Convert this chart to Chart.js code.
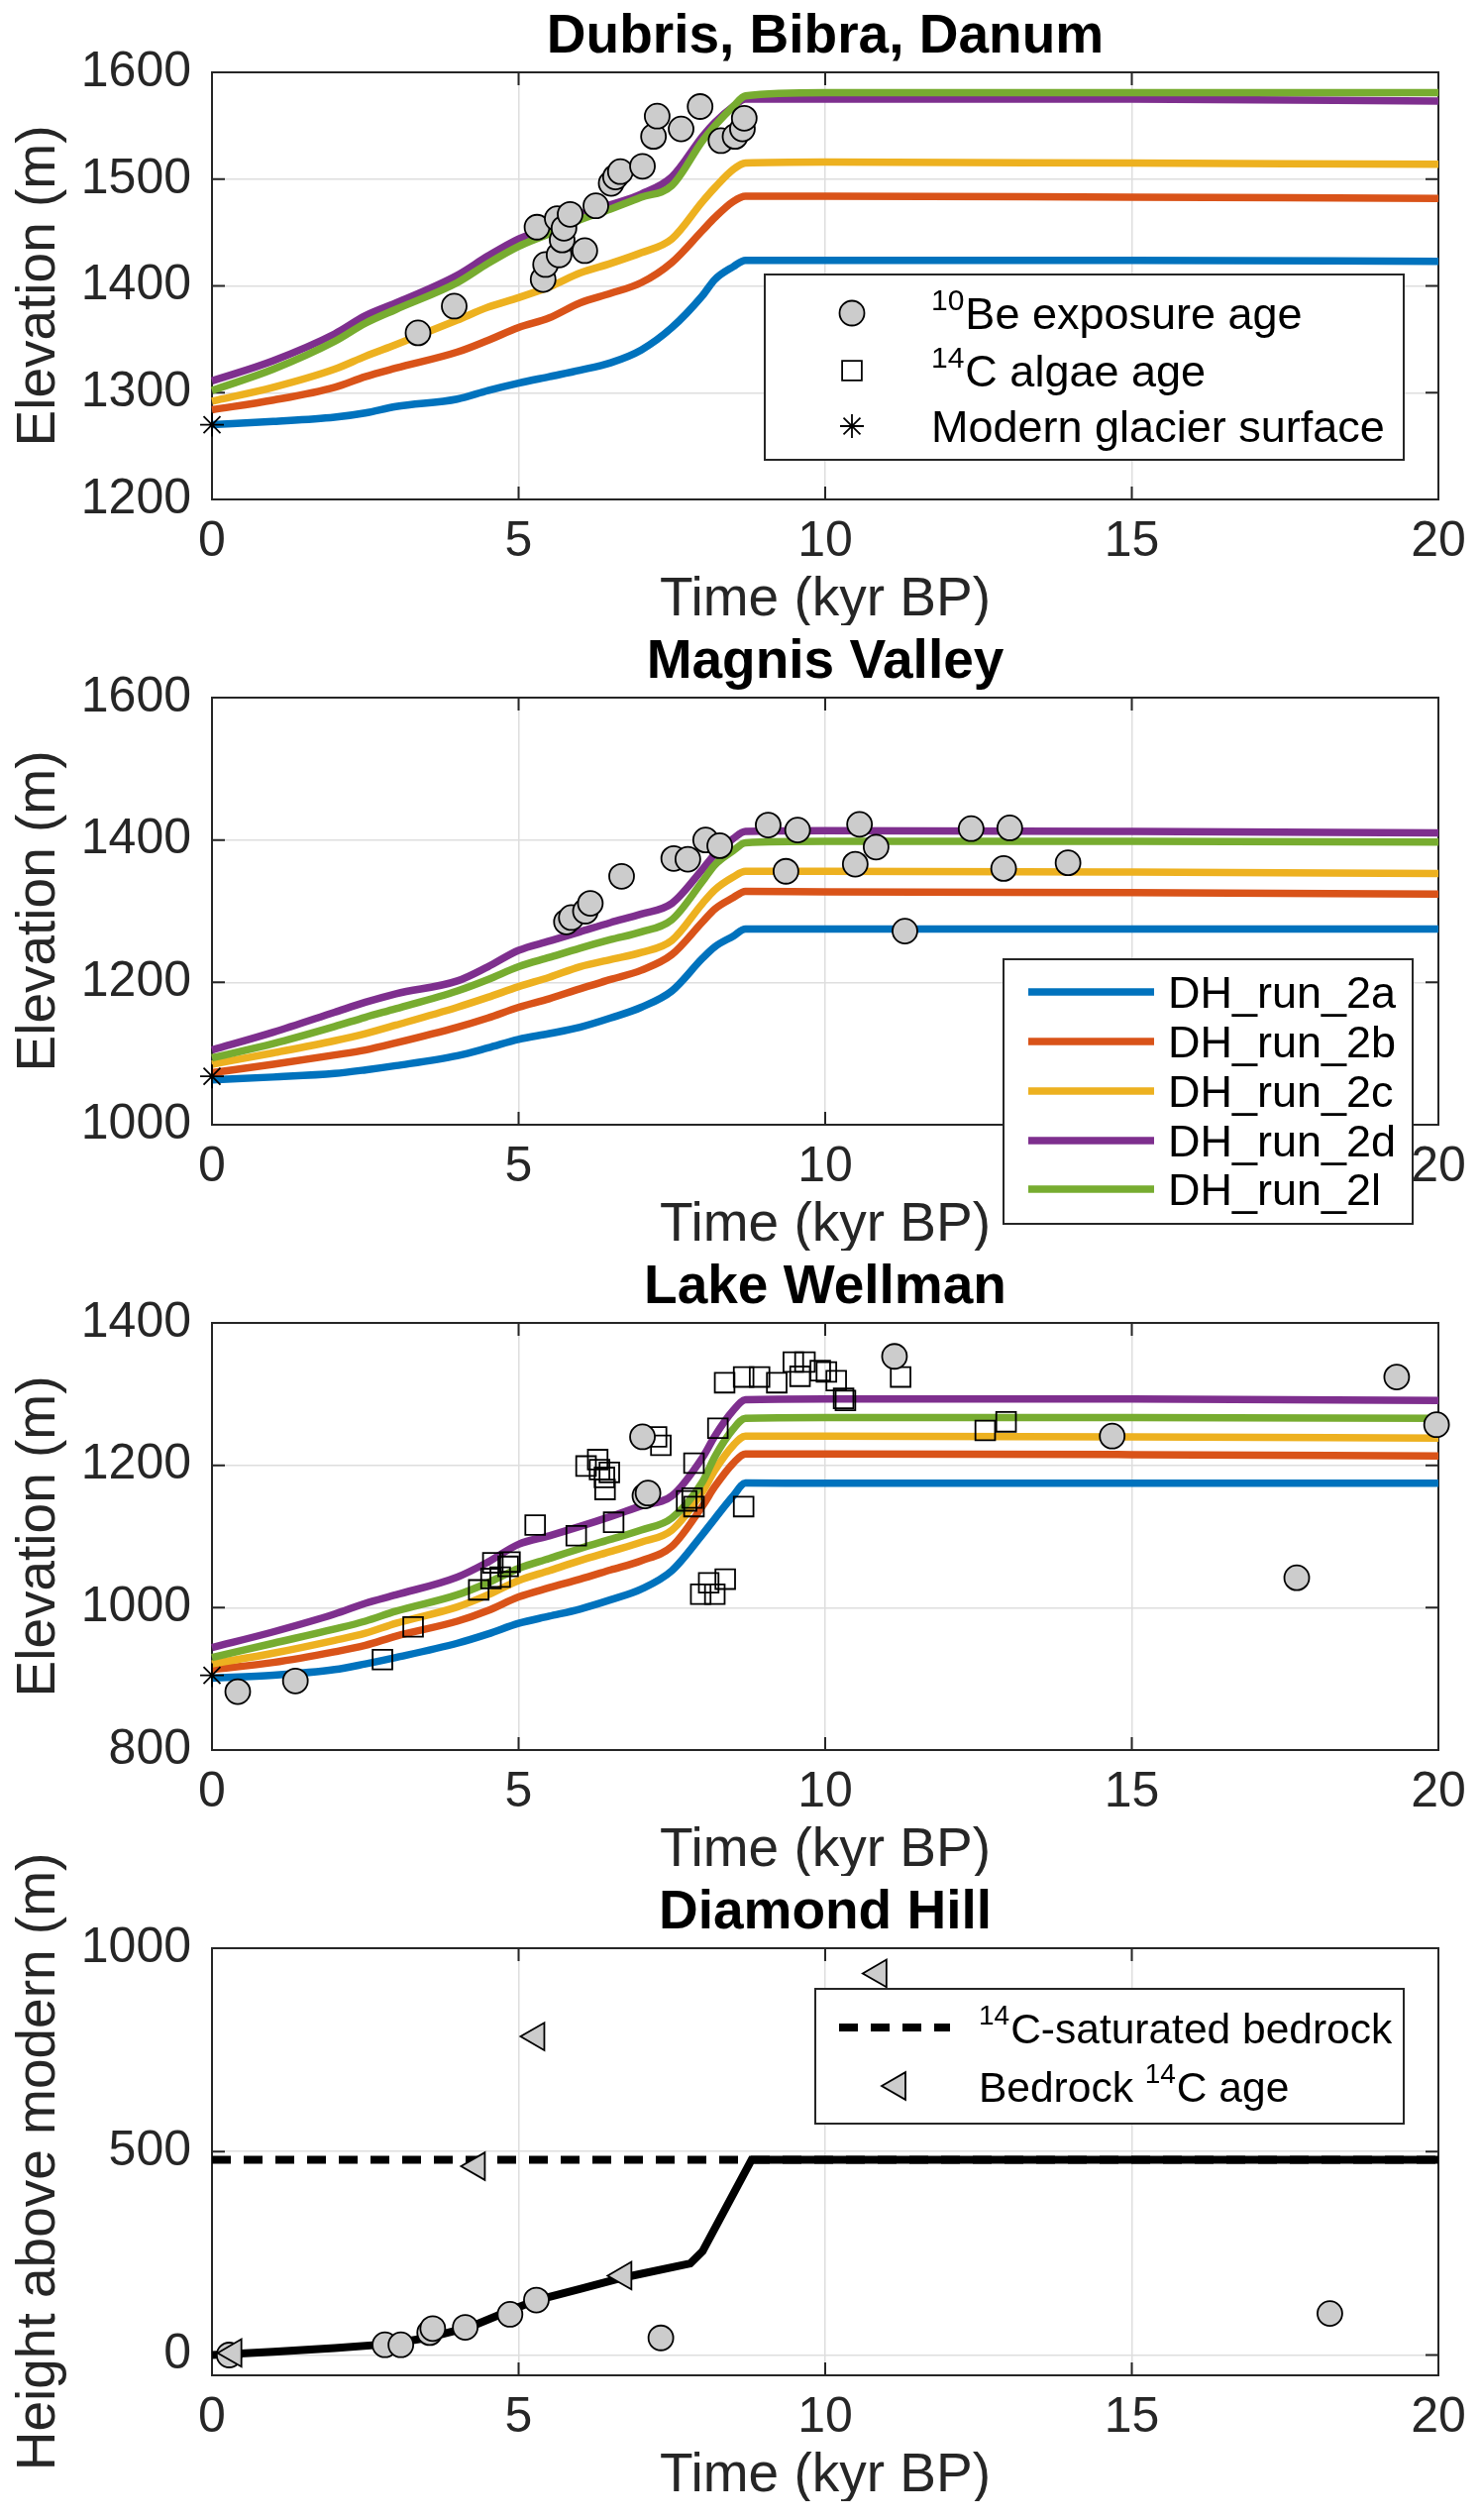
<!DOCTYPE html>
<html><head><meta charset="utf-8">
<script src="https://cdn.jsdelivr.net/npm/chart.js@4.4.1/dist/chart.umd.min.js"></script>
<style>
html,body{margin:0;padding:0;background:#fff;}
#wrap{position:relative;width:1495px;height:2543px;background:#fff;}
.panel{position:absolute;left:0;width:1495px;height:631px;}
</style></head><body><div id="wrap">
<div class="panel" style="top:0px"><canvas id="c1"></canvas></div>
<div class="panel" style="top:631px"><canvas id="c2"></canvas></div>
<div class="panel" style="top:1262px"><canvas id="c3"></canvas></div>
<div class="panel" style="top:1843px;height:681px"><canvas id="c4"></canvas></div>
</div>
<script>
// ---------- DATA ----------
const xTickValues = [0, 5, 10, 15, 20];
const dbdYTicks = [1200, 1300, 1400, 1500, 1600];
const mvYTicks = [1000, 1200, 1400, 1600];
const lwYTicks = [800, 1000, 1200, 1400];
const dhYTicks = [0, 500, 1000];

const runNames = ['DH_run_2a', 'DH_run_2b', 'DH_run_2c', 'DH_run_2d', 'DH_run_2l'];
const timeKyr = [0, 1, 2, 2.5, 3, 4, 4.5, 5, 5.5, 6, 6.5, 7, 7.5, 8, 8.2, 8.5, 8.7, 10, 15, 20];

// Dubris, Bibra, Danum
const dbd2a = [1270,1273,1277,1281,1287,1294,1302,1309,1315,1321,1328,1340,1361,1391,1406,1418,1424,1424,1424,1423];
const dbd2b = [1284,1293,1305,1315,1323,1338,1349,1361,1370,1384,1393,1403,1422,1452,1464,1479,1484,1484,1483,1482];
const dbd2c = [1292,1305,1322,1334,1345,1368,1380,1389,1399,1412,1421,1431,1444,1479,1492,1509,1515,1516,1515,1514];
const dbd2d = [1311,1330,1355,1372,1384,1410,1428,1444,1455,1467,1476,1486,1502,1540,1553,1568,1575,1575,1575,1573];
const dbd2l = [1302,1322,1348,1365,1378,1403,1421,1437,1449,1462,1472,1483,1494,1536,1550,1568,1578,1581,1581,1581];
const dbdBeAge  = [3.36,3.95,5.30,5.40,5.44,5.63,5.66,5.71,5.74,5.84,6.08,6.26,6.51,6.58,6.66,7.02,7.20,7.26,7.65,7.96,8.30,8.53,8.65,8.68];
const dbdBeElev = [1356,1381,1455,1406,1420,1463,1429,1443,1454,1467,1433,1475,1496,1502,1507,1512,1540,1559,1547,1568,1536,1540,1547,1557];
const dbdModern = [1270];

// Magnis Valley
const mv2a = [1063,1067,1072,1077,1083,1097,1108,1120,1128,1137,1150,1165,1188,1234,1250,1265,1275,1275,1275,1275];
const mv2b = [1073,1085,1098,1105,1115,1137,1150,1165,1177,1191,1204,1217,1239,1285,1303,1319,1328,1327,1326,1324];
const mv2c = [1085,1101,1118,1128,1140,1165,1179,1194,1207,1222,1232,1242,1259,1311,1330,1348,1356,1356,1355,1353];
const mv2d = [1105,1130,1158,1172,1184,1202,1222,1245,1258,1271,1284,1296,1311,1359,1380,1402,1412,1413,1412,1410];
const mv2l = [1094,1114,1138,1151,1163,1188,1204,1222,1235,1248,1260,1271,1288,1342,1365,1385,1396,1398,1398,1397];
const mvBeAge  = [5.78,5.86,6.09,6.17,6.68,7.53,7.76,8.05,8.28,9.07,9.36,9.55,10.49,10.56,10.83,11.30,12.38,12.91,13.01,13.96];
const mvBeElev = [1285,1291,1300,1311,1349,1374,1373,1400,1392,1421,1356,1414,1366,1422,1390,1272,1416,1360,1417,1368];
const mvModern = [1068];

// Lake Wellman
const lw2a = [901,905,913,921,930,950,963,978,988,998,1011,1026,1052,1103,1125,1157,1175,1175,1175,1175];
const lw2b = [913,923,938,947,960,981,996,1015,1028,1040,1053,1066,1086,1143,1170,1203,1216,1216,1215,1213];
const lw2c = [921,936,954,964,978,1001,1018,1038,1052,1066,1079,1092,1109,1163,1193,1228,1241,1241,1240,1238];
const lw2d = [944,966,991,1006,1018,1043,1064,1089,1101,1114,1128,1143,1157,1211,1241,1277,1292,1293,1293,1291];
const lw2l = [930,950,970,981,995,1018,1035,1055,1069,1083,1096,1109,1126,1177,1212,1251,1266,1267,1267,1266];
const lwBeAge  = [0.42,1.36,7.02,7.06,7.11,11.13,14.68,17.69,19.32,19.97];
const lwBeElev = [882,897,1240,1157,1161,1353,1241,1042,1324,1257];
const lwC14Age  = [2.78,3.28,4.35,4.58,4.70,4.83,4.86,4.55,5.27,5.94,6.55,6.10,6.29,6.32,6.40,6.48,6.41,7.25,7.32,7.74,7.86,7.83,7.86,8.25,8.67,7.97,8.20,8.10,8.37,8.36,8.67,8.93,9.21,9.48,9.67,9.59,9.92,10.02,10.18,10.33,10.30,11.23,12.61,12.95];
const lwC14Elev = [927,973,1025,1063,1043,1058,1064,1041,1116,1101,1120,1199,1208,1194,1183,1190,1166,1240,1228,1150,1142,1154,1203,1252,1142,1019,1019,1035,1040,1316,1324,1324,1316,1345,1345,1325,1333,1331,1319,1291,1294,1324,1249,1261];
const lwModern = [905];

// Diamond Hill
const dhModelAge    = [0, 1, 2, 2.9, 3.5, 4.2, 4.9, 5.3, 6, 6.7, 7.8, 8.0, 8.8, 20];
const dhModelHeight = [0, 8, 17, 27, 42, 68, 112, 135, 162, 190, 225, 255, 480, 480];
const dhSatAge      = [0, 20];
const dhSatHeight   = [480, 480];
const dhBeAge    = [0.28,2.82,3.08,3.55,3.60,4.13,4.86,5.29,7.32,18.23];
const dhBeHeight = [0,25,25,55,65,68,100,135,42,102];
const dhC14Age    = [0.35,4.32,5.29,6.71,10.87];
const dhC14Height = [5,464,783,195,938];

// ---------- STYLE ----------
const FONT = '"Liberation Sans", Arial, Helvetica, sans-serif';
const TXT = '#262626';
const GRID = '#dedede';
const runColors = ['#0072BD', '#D95319', '#EDB120', '#7E2F8E', '#77AC30'];
const runOrder = [5, 4, 3, 2, 1];

function pts(xs, ys) { return xs.map((x, i) => ({x: x, y: ys[i]})); }
function runSets(series) {
  return series.map((s, i) => ({
    label: runNames[i], data: pts(timeKyr, s), showLine: true, pointRadius: 0, pointHoverRadius: 0,
    borderColor: runColors[i], backgroundColor: runColors[i], borderWidth: 7.5,
    cubicInterpolationMode: 'monotone', fill: false, order: runOrder[i], clip: false
  }));
}
function circles(label, xs, ys) {
  return {label, data: pts(xs, ys), showLine: false, pointStyle: 'circle', pointRadius: 12.5, pointHoverRadius: 12.5,
    pointBackgroundColor: '#cccccc', pointBorderColor: '#000', pointBorderWidth: 1.8, order: 0, clip: false};
}
function squares(label, xs, ys) {
  return {label, data: pts(xs, ys), showLine: false, pointStyle: 'rect', pointRadius: 14, pointHoverRadius: 14,
    pointBackgroundColor: 'rgba(0,0,0,0)', pointBorderColor: '#000', pointBorderWidth: 1.8, order: 0, clip: false};
}
function star(label, xs, ys) {
  return {label, data: pts(xs, ys), showLine: false, pointStyle: 'star', pointRadius: 12, pointHoverRadius: 12,
    pointBackgroundColor: '#000', pointBorderColor: '#000', pointBorderWidth: 1.8, order: 0, clip: false};
}
function triangles(label, xs, ys) {
  return {label, data: pts(xs, ys), showLine: false, pointStyle: 'triangle', pointRotation: -90, pointRadius: 16, pointHoverRadius: 16,
    pointBackgroundColor: '#cccccc', pointBorderColor: '#000', pointBorderWidth: 1.8, order: 0, clip: false};
}

// ---------- PLUGINS ----------
const frame = {
  id: 'frame',
  beforeDatasetsDraw(chart) {
    const {ctx, chartArea: a, scales: {x, y}} = chart;
    ctx.save();
    ctx.strokeStyle = TXT; ctx.lineWidth = 2;
    ctx.beginPath();
    y.ticks.forEach(t => { const py = y.getPixelForValue(t.value);
      ctx.moveTo(a.left, py); ctx.lineTo(a.left + 13, py); ctx.moveTo(a.right, py); ctx.lineTo(a.right - 13, py); });
    x.ticks.forEach(t => { const px = x.getPixelForValue(t.value);
      ctx.moveTo(px, a.bottom); ctx.lineTo(px, a.bottom - 13); ctx.moveTo(px, a.top); ctx.lineTo(px, a.top + 13); });
    ctx.stroke();
    ctx.strokeRect(a.left, a.top, a.right - a.left, a.bottom - a.top);
    ctx.restore();
  }
};

function drawMarker(ctx, ds, x, y) {
  ctx.save();
  ctx.lineWidth = ds.pointBorderWidth; ctx.strokeStyle = ds.pointBorderColor; ctx.fillStyle = ds.pointBackgroundColor;
  const r = ds.pointRadius, st = ds.pointStyle;
  ctx.beginPath();
  if (st === 'circle') { ctx.arc(x, y, r, 0, 2 * Math.PI); ctx.fill(); ctx.stroke(); }
  else if (st === 'rect') { const s = r * Math.SQRT1_2; ctx.rect(x - s, y - s, 2 * s, 2 * s); ctx.stroke(); }
  else if (st === 'star') {
    for (let k = 0; k < 4; k++) { const a = k * Math.PI / 4;
      ctx.moveTo(x + Math.cos(a) * r, y + Math.sin(a) * r); ctx.lineTo(x - Math.cos(a) * r, y - Math.sin(a) * r); }
    ctx.stroke();
  } else if (st === 'triangle') {
    let a = (ds.pointRotation || 0) * Math.PI / 180;
    ctx.moveTo(x + Math.sin(a) * r, y - Math.cos(a) * r);
    a += 2 * Math.PI / 3; ctx.lineTo(x + Math.sin(a) * r, y - Math.cos(a) * r);
    a += 2 * Math.PI / 3; ctx.lineTo(x + Math.sin(a) * r, y - Math.cos(a) * r);
    ctx.closePath(); ctx.fill(); ctx.stroke();
  }
  ctx.restore();
}

const LEGENDS = {
  c1: {box: [772, 277, 1417, 464], mx: 860, tx: 940, size: 45, rows: [
    {ds: 0, y: 316, parts: [{text: '10', sup: true}, {text: 'Be exposure age'}]},
    {ds: 1, y: 374, parts: [{text: '14', sup: true}, {text: 'C algae age'}]},
    {ds: 2, y: 430, parts: [{text: 'Modern glacier surface'}]}]},
  c2: {box: [1013, 337, 1426, 604], sx1: 1038, sx2: 1165, tx: 1179, size: 45, rows: [
    {ds: 2, line: true, y: 370, parts: [{text: 'DH_run_2a'}]},
    {ds: 3, line: true, y: 420, parts: [{text: 'DH_run_2b'}]},
    {ds: 4, line: true, y: 470, parts: [{text: 'DH_run_2c'}]},
    {ds: 5, line: true, y: 520, parts: [{text: 'DH_run_2d'}]},
    {ds: 6, line: true, y: 569, parts: [{text: 'DH_run_2l'}]}]},
  c4: {box: [823, 164, 1417, 300], sx1: 847, sx2: 959, mx: 906, tx: 988, size: 42.5, rows: [
    {ds: 1, line: true, y: 203, parts: [{text: '14', sup: true}, {text: 'C-saturated bedrock'}]},
    {ds: 2, y: 262, parts: [{text: 'Bedrock '}, {text: '14', sup: true}, {text: 'C age'}]}]}
};

const boxLegend = {
  id: 'boxLegend',
  afterDraw(chart) {
    const L = LEGENDS[chart.canvas.id];
    if (!L) return;
    const ctx = chart.ctx;
    const [x1, y1, x2, y2] = L.box;
    ctx.save();
    ctx.fillStyle = '#fff'; ctx.fillRect(x1, y1, x2 - x1, y2 - y1);
    ctx.strokeStyle = TXT; ctx.lineWidth = 2; ctx.strokeRect(x1, y1, x2 - x1, y2 - y1);
    L.rows.forEach(r => {
      const ds = chart.data.datasets[r.ds];
      if (r.line) {
        ctx.save(); ctx.beginPath(); ctx.setLineDash(ds.borderDash || []);
        ctx.strokeStyle = ds.borderColor; ctx.lineWidth = ds.borderWidth;
        ctx.moveTo(L.sx1, r.y); ctx.lineTo(L.sx2, r.y); ctx.stroke(); ctx.restore();
      } else {
        drawMarker(ctx, ds, L.mx, r.y);
      }
      let x = L.tx; const base = r.y + 16;
      r.parts.forEach(p => {
        ctx.font = (p.sup ? Math.round(L.size * 0.67) + 'px ' : L.size + 'px ') + FONT;
        ctx.fillStyle = '#000'; ctx.textBaseline = 'alphabetic'; ctx.textAlign = 'left';
        ctx.fillText(p.text, x, p.sup ? base - 19 : base);
        x += ctx.measureText(p.text).width + (p.sup ? 1 : 0);
      });
    });
    ctx.restore();
  }
};

// ---------- CHARTS ----------
function makeChart(id, title, yTitle, yMin, yMax, yTicks, datasets, padTop) {
  return new Chart(document.getElementById(id), {
    type: 'scatter',
    data: {datasets},
    options: {
      responsive: true, maintainAspectRatio: false, animation: false, devicePixelRatio: 1,
      events: [],
      layout: {padding: {left: 0, right: 43, top: padTop || 0, bottom: 0}},
      plugins: {
        legend: {display: false},
        tooltip: {enabled: false},
        title: {display: true, text: title, color: '#000', fullSize: false,
          font: {family: FONT, size: 55, weight: 'bold', lineHeight: 1.2}, padding: {top: 5, bottom: 2}}
      },
      scales: {
        x: {type: 'linear', position: 'bottom', min: 0, max: 20,
          afterFit: s => { s.height = 127; },
          afterBuildTicks: s => { s.ticks = xTickValues.map(v => ({value: v})); },
          grid: {color: GRID, lineWidth: 1.5, drawTicks: false},
          border: {display: false},
          ticks: {color: TXT, font: {family: FONT, size: 50}, padding: 13, maxRotation: 0, autoSkip: false,
            callback: v => String(v)},
          title: {display: true, text: 'Time (kyr BP)', color: TXT, font: {family: FONT, size: 55, lineHeight: 0.92}, padding: {top: 0, bottom: 0}}
        },
        y: {type: 'linear', position: 'left', min: yMin, max: yMax,
          afterFit: s => { s.width = 214; },
          afterBuildTicks: s => { s.ticks = yTicks.map(v => ({value: v})); },
          grid: {color: GRID, lineWidth: 1.5, drawTicks: false},
          border: {display: false},
          ticks: {color: TXT, font: {family: FONT, size: 50}, padding: 21, autoSkip: false,
            callback: v => String(v)},
          title: {display: true, text: yTitle, color: TXT, font: {family: FONT, size: 55, lineHeight: 1.0}, padding: {top: 12, bottom: 0}}
        }
      }
    },
    plugins: [frame, boxLegend]
  });
}

makeChart('c1', 'Dubris, Bibra, Danum', 'Elevation (m)', 1200, 1600, dbdYTicks, [
  circles('10Be exposure age', dbdBeAge, dbdBeElev),
  squares('14C algae age', [], []),
  star('Modern glacier surface', [0], dbdModern),
  ...runSets([dbd2a, dbd2b, dbd2c, dbd2d, dbd2l])
]);

makeChart('c2', 'Magnis Valley', 'Elevation (m)', 1000, 1600, mvYTicks, [
  circles('10Be exposure age', mvBeAge, mvBeElev),
  star('Modern glacier surface', [0], mvModern),
  ...runSets([mv2a, mv2b, mv2c, mv2d, mv2l])
]);

makeChart('c3', 'Lake Wellman', 'Elevation (m)', 800, 1400, lwYTicks, [
  circles('10Be exposure age', lwBeAge, lwBeElev),
  squares('14C algae age', lwC14Age, lwC14Elev),
  star('Modern glacier surface', [0], lwModern),
  ...runSets([lw2a, lw2b, lw2c, lw2d, lw2l])
]);

makeChart('c4', 'Diamond Hill', 'Height above modern (m)', -50, 1000, dhYTicks, [
  {label: 'Model', data: pts(dhModelAge, dhModelHeight), showLine: true, pointRadius: 0, pointHoverRadius: 0,
    borderColor: '#000', borderWidth: 8, tension: 0, order: 2, clip: false},
  {label: '14C-saturated bedrock', data: pts(dhSatAge, dhSatHeight), showLine: true, pointRadius: 0, pointHoverRadius: 0,
    borderColor: '#000', borderWidth: 8, borderDash: [19, 13], tension: 0, order: 3, clip: false},
  triangles('Bedrock 14C age', dhC14Age, dhC14Height),
  circles('10Be exposure age', dhBeAge, dhBeHeight)
], 50);
</script>
</body></html>
